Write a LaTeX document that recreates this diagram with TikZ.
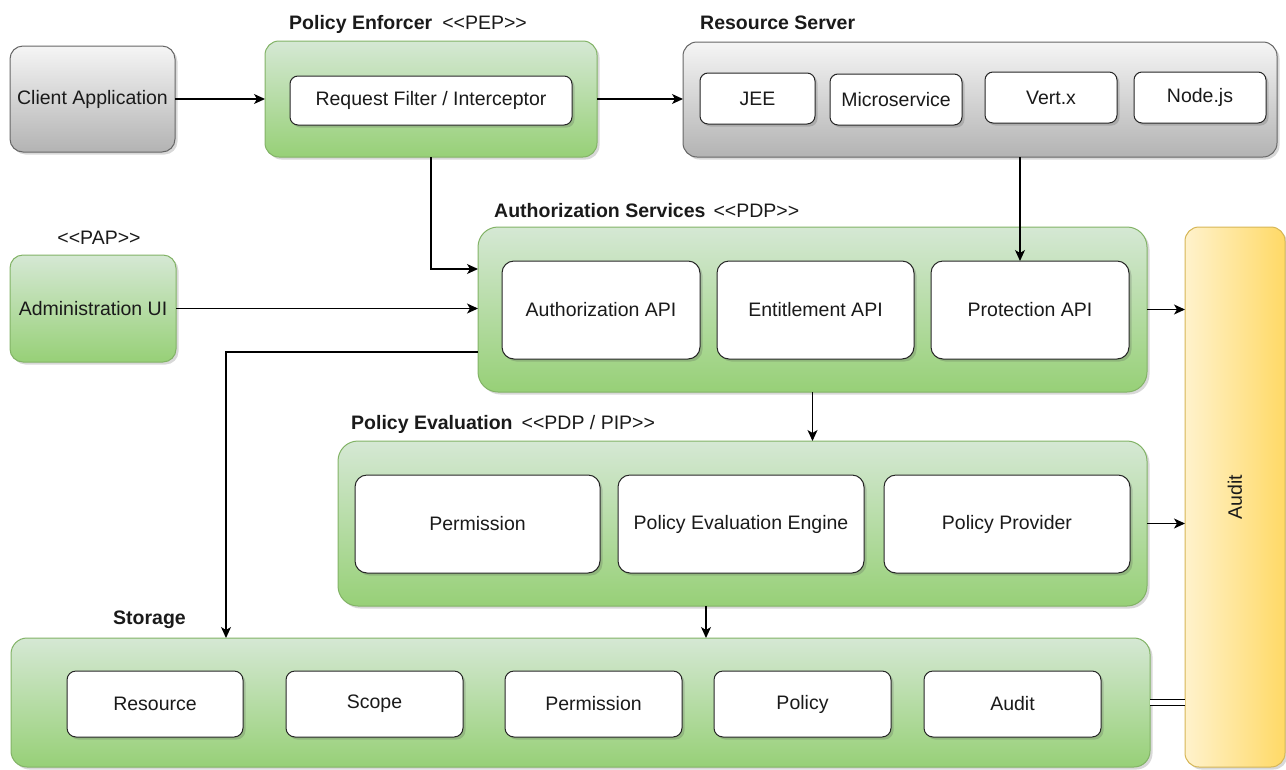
\documentclass[tikz,border=0pt]{standalone}
\usepackage{fontspec}
\setmainfont{Liberation Sans}
\usetikzlibrary{shadows,arrows.meta,calc}
\definecolor{grayline}{HTML}{666666}
\definecolor{grayT}{HTML}{F5F5F5}
\definecolor{grayB}{HTML}{B3B3B3}
\definecolor{greenline}{HTML}{82B366}
\definecolor{greenT}{HTML}{D5E8D4}
\definecolor{greenB}{HTML}{97D077}
\definecolor{auditline}{HTML}{D6B656}
\definecolor{auditL}{HTML}{FFF2CC}
\definecolor{auditR}{HTML}{FFD966}
\definecolor{txt}{HTML}{1A1A1A}
\newcommand\llt{<\kern0pt<}
\newcommand\ggt{>\kern0pt>}
\newcommand\mkbox[7]{%
 \pgfmathsetmacro\mbcx{(#2+#4)/2}%
 \pgfmathsetmacro\mbcy{(#3+#5)/2}%
 \pgfmathsetmacro\mbw{#4-#2}%
 \pgfmathsetmacro\mbh{#5-#3}%
 \node[#6, minimum width=\mbw pt, minimum height=\mbh pt] (#1) at (\mbcx,\mbcy) {#7};}
\tikzset{
 base/.style={inner sep=0pt, outer sep=0pt, line width=1pt, align=center, text=txt,
   font=\fontsize{19.5}{23}\selectfont},
 shad/.style={drop shadow={shadow xshift=2.5pt, shadow yshift=-2.5pt, opacity=0.22, fill=black!70}},
 graybox/.style={base, shad, draw=grayline, top color=grayT, bottom color=grayB},
 greenbox/.style={base, shad, draw=greenline, top color=greenT, bottom color=greenB},
 whitebox/.style={base, shad, draw=black!85, fill=white},
 auditbox/.style={base, shad, draw=auditline, left color=auditL, right color=auditR},
 titletext/.style={inner sep=0pt, anchor=west, text=txt, font=\fontsize{19.5}{23}\selectfont},
 arr/.style={line width=1.3pt, draw=black, -{Stealth[length=11pt,width=10pt,inset=3pt]}},
}
\begin{document}
\begin{tikzpicture}[x=1pt,y=-1pt]
\useasboundingbox (0,0) rectangle (1286,769);

% left column
\mkbox{client}{10}{46}{175}{152}{graybox, rounded corners=13pt}{Client Application}
\mkbox{admin}{10}{255}{176}{362}{greenbox, rounded corners=13pt}{Administration UI}
\node[titletext, anchor=center] (pap) at (99,238) {\llt PAP\ggt};

% policy enforcer
\node[titletext] (peptitle) at (289,24) {\textbf{Policy Enforcer}\hspace{10pt}\llt PEP\ggt};
\mkbox{pep}{265}{41}{597}{157}{greenbox, rounded corners=14pt}{}
\mkbox{filter}{290}{76}{572}{125}{whitebox, rounded corners=8pt}{Request Filter / Interceptor}

% resource server
\node[titletext] (rstitle) at (700,23) {\textbf{Resource Server}};
\mkbox{rs}{683}{42}{1277}{157}{graybox, rounded corners=14pt}{}
\mkbox{jee}{700}{73}{815}{124}{whitebox, rounded corners=8pt}{JEE}
\mkbox{micro}{830}{74}{962}{125}{whitebox, rounded corners=8pt}{Microservice}
\mkbox{vertx}{985}{72}{1117}{123}{whitebox, rounded corners=8pt}{Vert.x}
\mkbox{nodejs}{1134}{72}{1266}{123}{whitebox, rounded corners=8pt}{Node.js}

% authorization services
\node[titletext] (authtitle) at (494,211) {\textbf{Authorization Services}\hspace{8pt}\llt PDP\ggt};
\mkbox{auth}{478}{227}{1147}{392}{greenbox, rounded corners=20pt}{}
\mkbox{authapi}{502}{261}{700}{359}{whitebox, rounded corners=12pt}{Authorization API}
\mkbox{entapi}{717}{261}{914}{359}{whitebox, rounded corners=12pt}{Entitlement API}
\mkbox{protapi}{931}{261}{1129}{359}{whitebox, rounded corners=12pt}{Protection API}

% audit
\mkbox{audit}{1185}{227}{1285}{767}{auditbox, rounded corners=14pt, label={[rotate=90, text=txt, font=\fontsize{19.5}{23}\selectfont]center:Audit}}{}

% policy evaluation
\node[titletext] (pevtitle) at (351,424) {\textbf{Policy Evaluation}\hspace{9pt}\llt PDP / PIP\ggt};
\mkbox{peval}{338}{441}{1147}{606}{greenbox, rounded corners=20pt}{}
\mkbox{perm}{355}{475}{600}{573}{whitebox, rounded corners=12pt}{Permission}
\mkbox{engine}{618}{475}{864}{573}{whitebox, rounded corners=12pt}{Policy Evaluation Engine}
\mkbox{provider}{884}{475}{1130}{573}{whitebox, rounded corners=12pt}{Policy Provider}

% storage
\node[titletext] (sttitle) at (113,620) {\textbf{Storage}};
\mkbox{storage}{11}{638}{1150}{767}{greenbox, rounded corners=16pt}{}
\mkbox{sres}{67}{671}{243}{737}{whitebox, rounded corners=9pt}{Resource}
\mkbox{sscope}{286}{671}{463}{737}{whitebox, rounded corners=9pt}{Scope}
\mkbox{sperm}{505}{671}{682}{737}{whitebox, rounded corners=9pt}{Permission}
\mkbox{spol}{714}{671}{891}{737}{whitebox, rounded corners=9pt}{Policy}
\mkbox{saud}{924}{671}{1101}{737}{whitebox, rounded corners=9pt}{Audit}

% helper coordinates
\coordinate (rsx) at (1020,0);
\coordinate (authin) at (478,269);
\coordinate (authout) at (478,352);
\coordinate (stx) at (226,0);
\coordinate (pvx) at (706,0);

% connectors
\draw[arr] (client.east) -- (client.east -| pep.west);
\draw[arr] (pep.east) -- (pep.east -| rs.west);
\draw[arr] (pep.south) |- (authin);
\draw[arr] (rs.south -| rsx) -- (protapi.north -| rsx);
\draw[arr] (admin.east) -- (admin.east -| auth.west);
\draw[arr] (authout) -| (storage.north -| stx);
\draw[arr] (auth.east) -- (auth.east -| audit.west);
\draw[arr] (auth.south) -- (auth.south |- peval.north);
\draw[arr] (peval.east) -- (peval.east -| audit.west);
\draw[arr] (peval.south -| pvx) -- (storage.north -| pvx);
\draw[line width=1.1pt, double=white, double distance=5pt] (storage.east) -- (storage.east -| audit.west);
\end{tikzpicture}
\end{document}
